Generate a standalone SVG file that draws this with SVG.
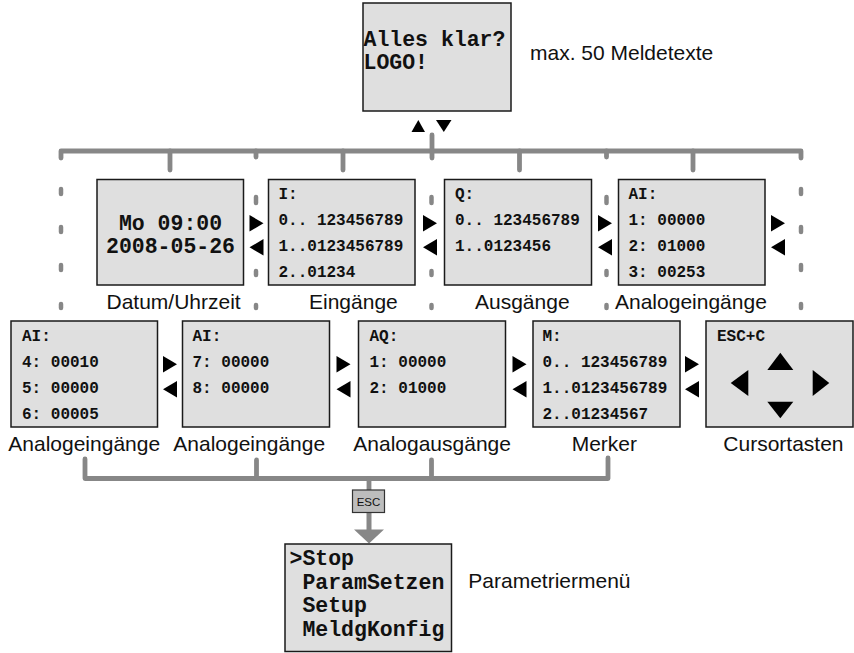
<svg xmlns="http://www.w3.org/2000/svg" xmlns:xlink="http://www.w3.org/1999/xlink" width="854" height="653" viewBox="0 0 854 653">
<style>
.box{fill:#dfdfdf;stroke:#1a1a1a;stroke-width:1.5}
.big{font-family:"Liberation Mono","Courier New",monospace;font-weight:bold;font-size:21.5px;fill:#111}
.sm{font-family:"Liberation Mono","Courier New",monospace;font-weight:bold;font-size:16px;fill:#111}
.lbl{font-family:"Liberation Sans",Arial,sans-serif;font-size:21px;fill:#111}
.bus{fill:none;stroke:#878787;stroke-width:4.8;stroke-linecap:round;stroke-linejoin:round}
.dash{stroke:#878787;stroke-width:4.5;stroke-linecap:round}
.tri{fill:#000}
</style>
<defs>
<path id="ar" class="tri" d="M0,0 L14,8.3 L0,16.6 Z"/>
<path id="al" class="tri" d="M14,0 L0,8.3 L14,16.6 Z"/>
</defs>

<g id="connectors">
<path class="bus" d="M61,158 V151 H801 V158"/>
<line class="bus" x1="432" y1="135" x2="432" y2="158"/>
<line class="bus" x1="170" y1="151" x2="170" y2="170"/>
<line class="bus" x1="343" y1="151" x2="343" y2="170"/>
<line class="bus" x1="519.5" y1="151" x2="519.5" y2="170"/>
<line class="bus" x1="693" y1="151" x2="693" y2="170"/>
<line class="bus" x1="256" y1="151" x2="256" y2="157"/>
<line class="bus" x1="606.5" y1="151" x2="606.5" y2="157"/>
<g class="dash">
<line x1="61" y1="189" x2="61" y2="194"/>
<line x1="61" y1="227" x2="61" y2="232"/>
<line x1="61" y1="265" x2="61" y2="270"/>
<line x1="61" y1="304" x2="61" y2="308"/>
<line x1="801" y1="189" x2="801" y2="194"/>
<line x1="801" y1="227" x2="801" y2="232"/>
<line x1="801" y1="265" x2="801" y2="270"/>
<line x1="801" y1="304" x2="801" y2="308"/>
<line x1="256" y1="197" x2="256" y2="203"/>
<line x1="256" y1="271" x2="256" y2="275"/>
<line x1="256" y1="305" x2="256" y2="308"/>
<line x1="431.5" y1="197" x2="431.5" y2="203"/>
<line x1="431.5" y1="271" x2="431.5" y2="275"/>
<line x1="431.5" y1="305" x2="431.5" y2="308"/>
<line x1="606.5" y1="197" x2="606.5" y2="203"/>
<line x1="606.5" y1="271" x2="606.5" y2="275"/>
<line x1="606.5" y1="305" x2="606.5" y2="308"/>
</g>
<path class="bus" d="M85,459 V478.5 H608 V458"/>
<line class="bus" x1="256.5" y1="460" x2="256.5" y2="478.5"/>
<line class="bus" x1="431.5" y1="460" x2="431.5" y2="478.5"/>
<line class="bus" x1="369" y1="478.5" x2="369" y2="490"/>
<line x1="369" y1="512" x2="369" y2="531" stroke="#878787" stroke-width="5"/>
<polygon points="354,529.5 384,529.5 369,543.5" fill="#878787"/>
<use xlink:href="#ar" x="249.5" y="215"/>
<use xlink:href="#al" x="249.5" y="239"/>
<use xlink:href="#ar" x="423" y="215"/>
<use xlink:href="#al" x="423" y="239"/>
<use xlink:href="#ar" x="598" y="215"/>
<use xlink:href="#al" x="598" y="239"/>
<use xlink:href="#ar" x="771" y="215"/>
<use xlink:href="#al" x="771" y="239"/>
<use xlink:href="#ar" x="163" y="356"/>
<use xlink:href="#al" x="163" y="381"/>
<use xlink:href="#ar" x="336.5" y="356"/>
<use xlink:href="#al" x="336.5" y="381"/>
<use xlink:href="#ar" x="512.5" y="356"/>
<use xlink:href="#al" x="512.5" y="381"/>
<use xlink:href="#ar" x="685" y="356"/>
<use xlink:href="#al" x="685" y="381"/>
<polygon class="tri" points="411.5,132 425,132 418.3,120"/>
<polygon class="tri" points="436,120 451.5,120 443.8,132"/>
</g>

<g id="esc">
<rect x="352.5" y="490" width="32" height="22.5" fill="#bdbdbd" stroke="#333" stroke-width="1.2"/>
<text x="368.5" y="505.5" text-anchor="middle" font-family="'Liberation Sans',Arial,sans-serif" font-size="11.5" fill="#111">ESC</text>
</g>

<g id="start">
<rect class="box" x="363" y="3" width="148" height="108"/>
<text class="big" x="363.5" y="46">Alles klar?</text>
<text class="big" x="363.5" y="69">LOGO!</text>
<text class="lbl" x="530" y="60">max. 50 Meldetexte</text>
</g>

<g id="datum">
<rect class="box" x="97" y="179.5" width="146.5" height="105.5"/>
<text class="big" x="170.5" y="230" text-anchor="middle">Mo 09:00</text>
<text class="big" x="170.5" y="252.5" text-anchor="middle">2008-05-26</text>
<text class="lbl" x="106.5" y="309">Datum/Uhrzeit</text>
</g>

<g id="eingaenge">
<rect class="box" x="268.5" y="179.5" width="146.5" height="105.5"/>
<text class="sm" x="278.5" y="198.5">I:</text>
<text class="sm" x="278.5" y="224.8">0.. 123456789</text>
<text class="sm" x="278.5" y="251">1..0123456789</text>
<text class="sm" x="278.5" y="277">2..01234</text>
<text class="lbl" x="309" y="309">Eingänge</text>
</g>

<g id="ausgaenge">
<rect class="box" x="444.5" y="179.5" width="147" height="105.5"/>
<text class="sm" x="455" y="198.5">Q:</text>
<text class="sm" x="455" y="224.8">0.. 123456789</text>
<text class="sm" x="455" y="251">1..0123456</text>
<text class="lbl" x="475" y="309">Ausgänge</text>
</g>

<g id="ai1">
<rect class="box" x="618.5" y="179.5" width="146.5" height="105.5"/>
<text class="sm" x="628.5" y="198.5">AI:</text>
<text class="sm" x="628.5" y="224.8">1: 00000</text>
<text class="sm" x="628.5" y="251">2: 01000</text>
<text class="sm" x="628.5" y="277">3: 00253</text>
<text class="lbl" x="615" y="309">Analogeingänge</text>
</g>

<g id="ai2">
<rect class="box" x="11" y="321" width="146.5" height="106"/>
<text class="sm" x="22" y="340.7">AI:</text>
<text class="sm" x="22" y="366.7">4: 00010</text>
<text class="sm" x="22" y="392.7">5: 00000</text>
<text class="sm" x="22" y="419">6: 00005</text>
<text class="lbl" x="8.3" y="451">Analogeingänge</text>
</g>

<g id="ai3">
<rect class="box" x="182.5" y="321" width="147" height="106"/>
<text class="sm" x="192.5" y="340.7">AI:</text>
<text class="sm" x="192.5" y="366.7">7: 00000</text>
<text class="sm" x="192.5" y="392.7">8: 00000</text>
<text class="lbl" x="173.3" y="451">Analogeingänge</text>
</g>

<g id="aq">
<rect class="box" x="358.5" y="321" width="147" height="106"/>
<text class="sm" x="369.5" y="340.7">AQ:</text>
<text class="sm" x="369.5" y="366.7">1: 00000</text>
<text class="sm" x="369.5" y="392.7">2: 01000</text>
<text class="lbl" x="353.3" y="451">Analogausgänge</text>
</g>

<g id="merker">
<rect class="box" x="533" y="321" width="147" height="106"/>
<text class="sm" x="542.5" y="340.7">M:</text>
<text class="sm" x="542.5" y="366.7">0.. 123456789</text>
<text class="sm" x="542.5" y="392.7">1..0123456789</text>
<text class="sm" x="542.5" y="419">2..01234567</text>
<text class="lbl" x="571.7" y="451">Merker</text>
</g>

<g id="cursor">
<rect class="box" x="706" y="321" width="147" height="106"/>
<text class="sm" x="717" y="340.7">ESC+C</text>
<polygon class="tri" points="767.3,370 793.3,370 780.3,352.7"/>
<polygon class="tri" points="767.3,401.7 793.3,401.7 780.3,418.3"/>
<polygon class="tri" points="748.3,370 748.3,396 730.7,383"/>
<polygon class="tri" points="812.7,370 812.7,396 829.3,383"/>
<text class="lbl" x="723.3" y="451">Cursortasten</text>
</g>

<g id="param">
<rect class="box" x="285" y="544" width="166.5" height="107.5"/>
<text class="big" x="289.5" y="565" xml:space="preserve">&gt;Stop</text>
<text class="big" x="289.5" y="588.5" xml:space="preserve"> ParamSetzen</text>
<text class="big" x="289.5" y="612" xml:space="preserve"> Setup</text>
<text class="big" x="289.5" y="635.8" xml:space="preserve"> MeldgKonfig</text>
<text class="lbl" x="468.3" y="588.3">Parametriermenü</text>
</g>
</svg>
